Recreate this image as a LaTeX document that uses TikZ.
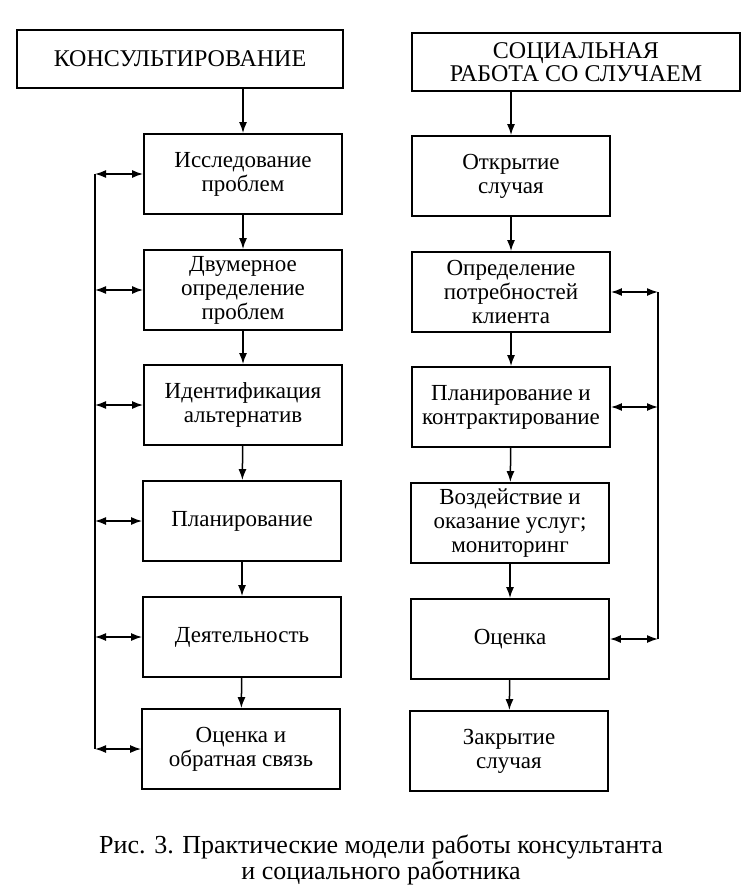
\documentclass[tikz,border=0pt]{standalone}
\usepackage{fontspec}
\setmainfont{Liberation Serif}
\usetikzlibrary{arrows.meta}

\begin{document}
\begin{tikzpicture}[x=1pt, y=-1pt,
    every node/.style={font=\fontsize{23}{24}\selectfont, align=center},
    head/.style={draw, line width=2.8pt, minimum width=326pt, minimum height=58pt, inner sep=0pt,
        font=\fontsize{24}{23}\selectfont},
    stage/.style={draw, line width=1.8pt, minimum width=198pt, minimum height=80pt, inner sep=0pt},
    flow/.style={line width=1.5pt, -{Latex[length=11pt,width=8pt]}},
    back/.style={line width=1.5pt, {Latex[length=11pt,width=8pt]}-{Latex[length=11pt,width=8pt]}}]
    \useasboundingbox (0,0) rectangle (750,893);

    % Consulting
    \node[head] (khead) at (180,59) {КОНСУЛЬТИРОВАНИЕ};
    \node[stage] (k1) at (243,174) {Исследование\\проблем};
    \node[stage] (k2) at (243,290) {Двумерное\\определение\\проблем};
    \node[stage] (k3) at (243,405) {Идентификация\\альтернатив};
    \node[stage] (k4) at (242,521) {Планирование};
    \node[stage] (k5) at (242,637) {Деятельность};
    \node[stage] (k6) at (241,749) {Оценка и\\обратная связь};

    \draw[flow] (k1.north |- khead.south) -- (k1.north);
    \foreach \a/\b in {k1/k2, k2/k3, k3/k4, k4/k5, k5/k6}
        \draw[flow] (\a) -- (\b);

    % Feedback line of the consulting model
    \coordinate (kbus) at (95,0);
    \draw[line width=1.5pt] (k1.west -| kbus) -- (k6.west -| kbus);
    \foreach \n in {k1, k2, k3, k4, k5, k6}
        \draw[back] (\n.west -| kbus) -- (\n.west);

    % Social case work
    \node[head, minimum width=328pt] (shead) at (576,62) {СОЦИАЛЬНАЯ\\РАБОТА СО СЛУЧАЕМ};
    \node[stage] (s1) at (511,176) {Открытие\\случая};
    \node[stage] (s2) at (511,292) {Определение\\потребностей\\клиента};
    \node[stage] (s3) at (511,407) {Планирование и\\контрактирование};
    \node[stage] (s4) at (510,523) {Воздействие и\\оказание услуг;\\мониторинг};
    \node[stage] (s5) at (510,639) {Оценка};
    \node[stage] (s6) at (509,751) {Закрытие\\случая};

    \draw[flow] (s1.north |- shead.south) -- (s1.north);
    \foreach \a/\b in {s1/s2, s2/s3, s3/s4, s4/s5, s5/s6}
        \draw[flow] (\a) -- (\b);

    % Feedback line of the case work model
    \coordinate (sbus) at (658,0);
    \draw[line width=1.5pt] (s2.east -| sbus) -- (s5.east -| sbus);
    \foreach \n in {s2, s3, s5}
        \draw[back] (\n.east) -- (\n.east -| sbus);

    % Caption
    \node[font=\fontsize{26}{26}\selectfont] (caption) at (381,860) {Рис. 3. Практические модели работы консультанта\\и социального работника};
\end{tikzpicture}
\end{document}
